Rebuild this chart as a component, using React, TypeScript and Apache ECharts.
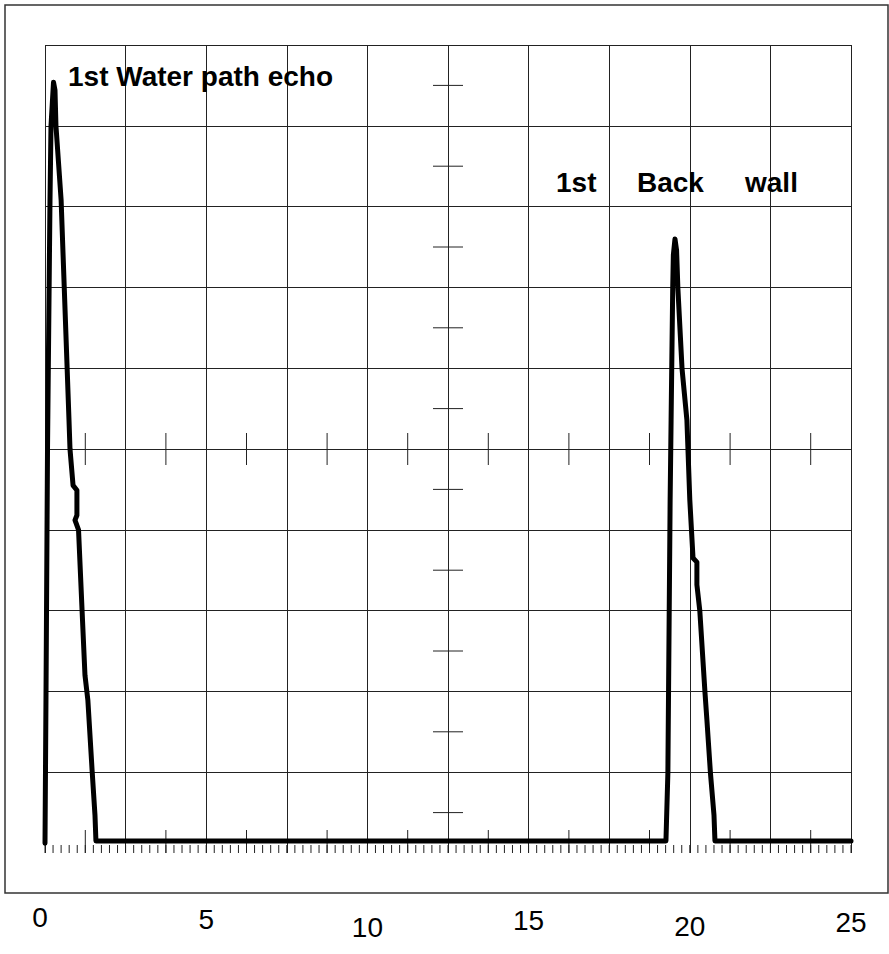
import React, { useEffect, useRef } from 'react';
import * as echarts from 'echarts';

// Trace: time (x, 0..25) and amplitude (% of screen height)
const traceTime = [
  0, 0.03, 0.078, 0.155, 0.186, 0.264, 0.31, 0.34, 0.5, 0.744, 0.775, 0.87, 0.99, 0.99, 0.93, 1.04,
  1.15, 1.24, 1.33, 1.46, 1.55, 1.58,
  19.26, 19.32, 19.39, 19.42, 19.47, 19.49, 19.54, 19.59, 19.63, 19.76, 19.91, 20.0, 20.1, 20.22,
  20.22, 20.31, 20.47, 20.53, 20.64, 20.75, 20.78, 25,
];
const traceAmplitude = [
  1.2, 18.9, 50, 80.8, 90, 95.4, 94.4, 90, 80.8, 53.6, 50, 45.5, 44.9, 41.8, 41.2, 40,
  30, 22, 18.9, 10.3, 4.7, 1.5,
  1.5, 9.9, 43.7, 53.6, 69.9, 74, 76, 74.6, 69.9, 59.9, 53.6, 43.7, 36.5, 36.0,
  33.2, 30, 19.9, 16.5, 9.9, 4.7, 1.5, 1.5,
];

// Axis labels
const xTickValues = [0, 5, 10, 15, 20, 25];
const xTickLabels = ['0', '5', '10', '15', '20', '25'];

// Graticule marks
const centerHorizontalTicks = [1.25, 3.75, 6.25, 8.75, 11.25, 13.75, 16.25, 18.75, 21.25, 23.75];
const centerVerticalTicks = [5, 15, 25, 35, 45, 55, 65, 75, 85, 95];
const bottomHalfTicks = [1.25, 3.75, 6.25, 8.75, 11.25, 13.75, 16.25, 18.75, 21.25, 23.75];
const bottomMinorStep = 0.25;

// Annotations
const annotationWater = '1st Water path echo';
const annotationBackWords = ['1st', 'Back', 'wall'];

export default function App() {
  const ref = useRef<HTMLDivElement>(null);

  useEffect(() => {
    if (!ref.current) return;
    const chart = echarts.init(ref.current, undefined, { renderer: 'svg' });

    const traceData = traceTime.map((t, i) => [t, traceAmplitude[i]]);
    const markData: number[][] = [];
    centerHorizontalTicks.forEach((x) => markData.push([x, 50, 0]));
    centerVerticalTicks.forEach((y) => markData.push([12.5, y, 1]));
    for (let k = 0; k <= 100; k++) markData.push([k * bottomMinorStep, 0, 2]);
    bottomHalfTicks.forEach((x) => markData.push([x, 0, 3]));

    const font = 'Liberation Sans, Arial, sans-serif';
    const lineColor = '#222';

    const labelDrop = [0, 2, 10, 3, 9, 5];
    const rich: Record<string, any> = {};
    xTickLabels.forEach((_, i) => {
      rich['l' + i] = {
        fontSize: 28,
        fontFamily: font,
        color: '#000',
        padding: [labelDrop[i], i === 0 ? 10 : 0, 0, 0],
      };
    });

    chart.setOption({
      animation: false,
      backgroundColor: '#fff',
      grid: { left: 45, top: 45, right: 38, bottom: 101, containLabel: false },
      xAxis: [
        {
          type: 'value',
          min: 0,
          max: 25,
          interval: 2.5,
          axisLine: { show: false },
          axisTick: { show: false },
          axisLabel: { show: false },
          splitLine: { show: true, lineStyle: { color: lineColor, width: 1 } },
        },
        {
          type: 'value',
          position: 'bottom',
          min: 0,
          max: 25,
          interval: 5,
          axisLine: { show: false },
          axisTick: { show: false },
          splitLine: { show: false },
          axisLabel: {
            show: true,
            margin: 50,
            fontSize: 28,
            fontFamily: font,
            color: '#000',
            showMinLabel: true,
            showMaxLabel: true,
            formatter: (v: number) => {
              const i = xTickValues.indexOf(Math.round(v));
              return i >= 0 ? `{l${i}|${xTickLabels[i]}}` : '';
            },
            rich,
          },
        },
      ],
      yAxis: {
        type: 'value',
        min: 0,
        max: 100,
        interval: 10,
        axisLine: { show: false },
        axisTick: { show: false },
        axisLabel: { show: false },
        splitLine: { show: true, showMinLine: false, lineStyle: { color: lineColor, width: 1 } },
      },
      series: [
        {
          type: 'custom',
          xAxisIndex: 0,
          yAxisIndex: 0,
          silent: true,
          z: 1,
          data: markData,
          renderItem: (params: any, api: any) => {
            const kind = api.value(2);
            const p = api.coord([api.value(0), api.value(1)]);
            let shape;
            if (kind === 0) shape = { x1: p[0], y1: p[1] - 16, x2: p[0], y2: p[1] + 16 };
            else if (kind === 1) shape = { x1: p[0] - 15, y1: p[1], x2: p[0] + 15, y2: p[1] };
            else if (kind === 2) shape = { x1: p[0], y1: p[1] - 8, x2: p[0], y2: p[1] };
            else shape = { x1: p[0], y1: p[1] - 23, x2: p[0], y2: p[1] };
            return { type: 'line', shape, style: { stroke: lineColor, lineWidth: 1 } };
          },
        },
        {
          type: 'line',
          xAxisIndex: 0,
          yAxisIndex: 0,
          data: traceData,
          showSymbol: false,
          symbol: 'none',
          z: 3,
          lineStyle: { color: '#000', width: 5, join: 'round', cap: 'round' },
        },
      ],
      graphic: [
        {
          type: 'rect',
          z: 0,
          shape: { x: 5, y: 5, width: 883, height: 888 },
          style: { fill: 'none', stroke: '#333', lineWidth: 1.5 },
        },
        {
          type: 'text',
          x: 68,
          y: 76,
          z: 10,
          style: { text: annotationWater, fontSize: 28, fontWeight: 'bold', fontFamily: font, fill: '#000', verticalAlign: 'middle' },
        },
        {
          type: 'text',
          x: 556,
          y: 182,
          z: 10,
          style: { text: annotationBackWords[0], fontSize: 28, fontWeight: 'bold', fontFamily: font, fill: '#000', verticalAlign: 'middle' },
        },
        {
          type: 'text',
          x: 637,
          y: 182,
          z: 10,
          style: { text: annotationBackWords[1], fontSize: 28, fontWeight: 'bold', fontFamily: font, fill: '#000', verticalAlign: 'middle' },
        },
        {
          type: 'text',
          x: 745,
          y: 182,
          z: 10,
          style: { text: annotationBackWords[2], fontSize: 28, fontWeight: 'bold', fontFamily: font, fill: '#000', verticalAlign: 'middle' },
        },
      ],
    });

    return () => chart.dispose();
  }, []);

  return (
    <div
      ref={ref}
      style={{ position: 'absolute', left: 0, top: 0, width: 889, height: 954, background: '#fff' }}
    />
  );
}
